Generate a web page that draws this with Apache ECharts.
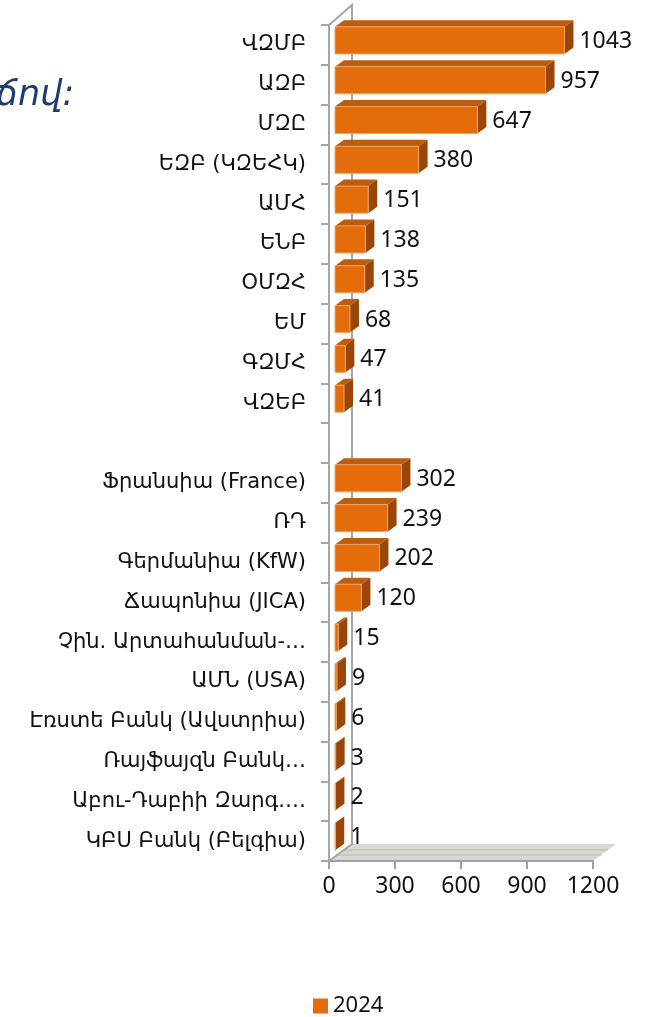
<!DOCTYPE html>
<html>
<head>
<meta charset="utf-8">
<script src="https://cdn.jsdelivr.net/npm/echarts@6/dist/echarts.min.js"></script>
<style>
  html, body { margin: 0; padding: 0; background: #fff; }
  #chart { width: 653px; height: 1017px; }
</style>
</head>
<body>
<div id="chart"></div>
<script>
// first group: international organisations
var orgNames = ['ՎԶՄԲ', 'ԱԶԲ', 'ՄԶԸ', 'ԵԶԲ (ԿԶԵՀԿ)', 'ԱՄՀ', 'ԵՆԲ', 'ՕՄԶՀ', 'ԵՄ', 'ԳԶՄՀ', 'ՎԶԵԲ'];
var orgValues = [1043, 957, 647, 380, 151, 138, 135, 68, 47, 41];
// second group: countries / banks
var bilNames = ['Ֆրանսիա (France)', 'ՌԴ', 'Գերմանիա (KfW)', 'Ճապոնիա (JICA)', 'Չին. Արտահանման-…',
  'ԱՄՆ (USA)', 'Էռստե Բանկ (Ավստրիա)', 'Ռայֆայզն Բանկ…', 'Աբու-Դաբիի Զարգ.…', 'ԿԲՍ Բանկ (Բելգիա)'];
var bilValues = [302, 239, 202, 120, 15, 9, 6, 3, 2, 1];
var seriesName = '2024';
var xTicks = { min: 0, max: 1200, interval: 300 };

// empty slot between the two groups
var categories = orgNames.concat([''], bilNames);
var barData = [];
orgValues.forEach(function (v, i) { barData.push([v, i]); });
bilValues.forEach(function (v, i) { barData.push([v, orgNames.length + 1 + i]); });

var FRONT = '#E46C0A', TOP = '#BC5C0E', SIDE = '#9A4608';
var GRID_L = 329, GRID_T = 25, GRID_W = 264, GRID_B = 861;
var WALL_DX = 23, WALL_DY = 17;   // depth of the fake 3d box
var BAR_SHIFT = 6;                // bars sit a bit back from the front plane
var BAR_DX = 9, BAR_DY = 6.5;     // depth of each bar

function renderBar(params, api) {
  var v = api.value(0), idx = api.value(1);
  var p0 = api.coord([0, idx]);
  var p1 = api.coord([v, idx]);
  var band = api.size([0, 1])[1];
  var h = band * 0.68;
  var cy = p0[1] - 4.5;
  var x0 = p0[0] + BAR_SHIFT, x1 = p1[0] + BAR_SHIFT;
  var yt = cy - h / 2, yb = cy + h / 2;
  return {
    type: 'group',
    children: [
      { type: 'polygon', shape: { points: [[x0, yt], [x0 + BAR_DX, yt - BAR_DY], [x1 + BAR_DX, yt - BAR_DY], [x1, yt]] },
        style: { fill: TOP } },
      { type: 'polygon', shape: { points: [[x1, yt], [x1 + BAR_DX, yt - BAR_DY], [x1 + BAR_DX, yb - BAR_DY], [x1, yb]] },
        style: { fill: SIDE } },
      { type: 'rect', shape: { x: x0, y: yt, width: Math.max(x1 - x0, 0.5), height: h },
        style: { fill: FRONT, stroke: '#F2A566', lineWidth: 1 } },
      { type: 'text', style: { text: String(v), x: x1 + BAR_DX + 6, y: cy + 1, fill: '#111',
        fontSize: 23, fontFamily: 'Noto Sans', align: 'left', verticalAlign: 'middle' } }
    ]
  };
}

var chart = echarts.init(document.getElementById('chart'));
var L = GRID_L, R = GRID_L + GRID_W, T = GRID_T, B = GRID_B;
var option = {
  animation: false,
  grid: { left: GRID_L, top: GRID_T, width: GRID_W, height: GRID_B - GRID_T },
  legend: {
    data: [seriesName], left: 308, top: 990, icon: 'rect', itemWidth: 15, itemHeight: 15, itemGap: 6,
    textStyle: { fontSize: 22, fontFamily: 'Noto Sans', color: '#111' }
  },
  xAxis: {
    type: 'value', min: xTicks.min, max: xTicks.max, interval: xTicks.interval,
    splitLine: { show: false },
    axisLine: { show: true, lineStyle: { color: '#A0A0A0', width: 2 } },
    axisTick: { show: true, length: 8, lineStyle: { color: '#A0A0A0', width: 2 } },
    axisLabel: { fontSize: 23, fontFamily: 'Noto Sans', color: '#111', margin: 14,
      formatter: function (v) { return String(v); } }
  },
  yAxis: {
    type: 'category', data: categories, inverse: true,
    axisLine: { show: true, lineStyle: { color: '#A6A6A6', width: 2 } },
    axisTick: { show: true, length: 8, lineStyle: { color: '#A6A6A6', width: 2 } },
    axisLabel: { fontSize: 21, fontFamily: 'DejaVu Sans', color: '#111', margin: 23 }
  },
  graphic: [
    { type: 'text', left: -4, top: 78, z: 10,
      style: { text: 'ճով:', fill: '#1F3C6E', font: 'italic 35px "DejaVu Sans"' } },
    // floor
    { type: 'polygon', z: 0, shape: { points: [[L, B], [R, B], [R + WALL_DX, B - WALL_DY], [L + WALL_DX, B - WALL_DY]] },
      style: { fill: '#D7D7D3' } },
    { type: 'line', z: 0, shape: { x1: L + 8, y1: B - 6, x2: R + 8, y2: B - 6 }, style: { stroke: '#BDBDA2', lineWidth: 1 } },
    { type: 'line', z: 0, shape: { x1: L + 15, y1: B - 11, x2: R + 15, y2: B - 11 }, style: { stroke: '#BDBDA2', lineWidth: 1 } },
    // back wall edge + top diagonal + floor diagonal
    { type: 'polyline', z: 0, shape: { points: [[L, T], [L + WALL_DX, T - 20], [L + WALL_DX, B - WALL_DY], [L, B]] },
      style: { stroke: '#A6A6A6', lineWidth: 2, fill: null } }
  ],
  series: [{
    name: seriesName, type: 'custom', renderItem: renderBar,
    itemStyle: { color: FRONT },
    encode: { x: 0, y: 1 },
    data: barData, z: 5
  }]
};
chart.setOption(option);
</script>
</body>
</html>
